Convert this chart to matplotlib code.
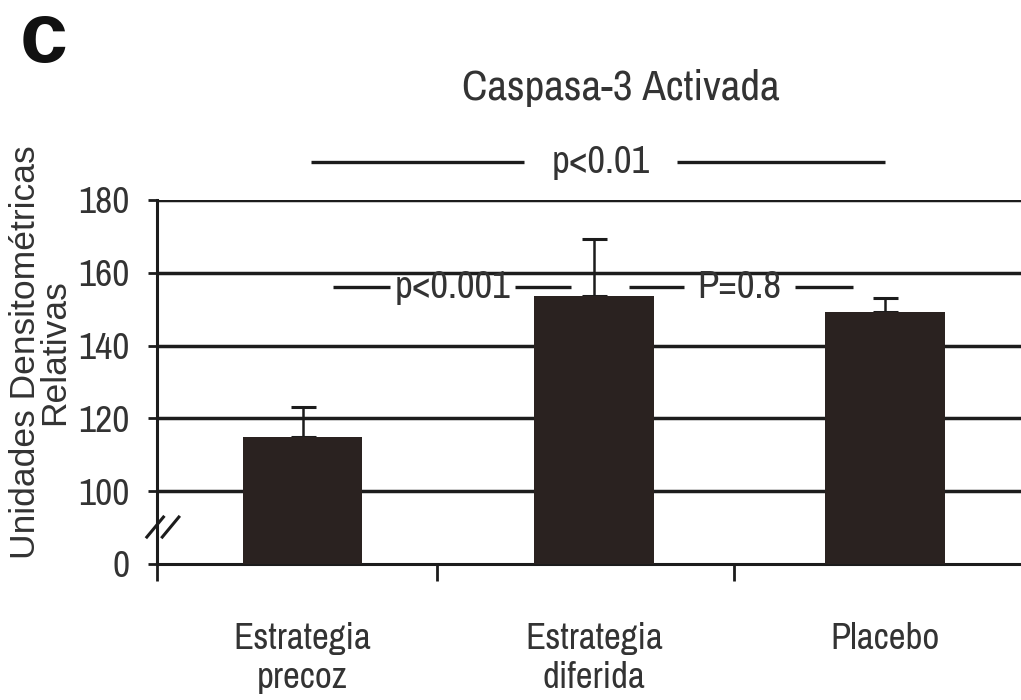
import numpy as np
import matplotlib
matplotlib.use('Agg')
import matplotlib.pyplot as plt
from matplotlib import font_manager

# ---------------------------------------------------------------
# Data
# ---------------------------------------------------------------
categories = ['Estrategia\nprecoz', 'Estrategia\ndiferida', 'Placebo']
means = [114.8, 153.7, 149.1]
err_up = [8.2, 15.5, 3.9]

# broken axis: 0 is drawn one tick-step below 100
AXIS_OFFSET = 80
tick_values = [0, 100, 120, 140, 160, 180]
grid_values = [100, 120, 140, 160, 180]

# significance brackets: (label, left group, right group, y value)
sig_labels = ['p<0.01', 'p<0.001', 'P=0.8']
sig_pairs = [(0, 2), (0, 1), (1, 2)]
sig_levels = [190.4, 156.0, 156.0]

TEXT = '#333333'
INK = '#1c1c1c'
BAR = '#2a2220'

# the original uses a Helvetica-Narrow style face; take the first one we have
_have = {f.name for f in font_manager.fontManager.ttflist}
_narrow = [n for n in ('Nimbus Sans Narrow', 'Liberation Sans Narrow',
                       'Arial Narrow', 'Archivo Narrow', 'Roboto Condensed',
                       'PT Sans Narrow') if n in _have]
NARROW = _narrow[:1] + ['Liberation Sans', 'DejaVu Sans']
REGULAR = ['Liberation Sans', 'DejaVu Sans']


def to_axis(v):
    return v if v == 0 else v - AXIS_OFFSET


fig = plt.figure(figsize=(10.21, 7.0), dpi=100)
ax = fig.add_axes([0.1538, 0.1943, 0.8462, 0.52])

x = np.arange(len(categories))
heights = [to_axis(m) for m in means]

for g in grid_values:
    ax.axhline(to_axis(g), color=INK, lw=2.5, zorder=1)

ax.bar(x, heights, width=0.41, color=BAR, zorder=3)
for xi, h, e in zip(x, heights, err_up):
    ax.errorbar(xi, h, yerr=[[0], [e]], fmt='none', ecolor=INK,
                elinewidth=1.8, capsize=9, capthick=2.2, zorder=2)

ax.set_xlim(-0.5, 2.467)
ax.set_ylim(0, 100)

for s in ('top', 'right'):
    ax.spines[s].set_visible(False)
for s in ('left', 'bottom'):
    ax.spines[s].set_linewidth(2.2)
    ax.spines[s].set_color(INK)

ax.set_yticks([to_axis(v) for v in tick_values])
ax.set_yticklabels([str(v) for v in tick_values], family=NARROW,
                   fontsize=27, color=TEXT)
ax.tick_params(axis='y', length=6.5, width=2.0, color=INK, pad=13)

ax.set_xticks(x)
ax.set_xticklabels(categories, family=NARROW, fontsize=26.5, color=TEXT,
                   va='top', linespacing=1.2)
ax.tick_params(axis='x', which='major', length=0, pad=42)
ax.set_xticks([-0.5, 0.46, 1.48], minor=True)
ax.tick_params(axis='x', which='minor', length=12, width=2.0, color=INK,
               direction='out')

# axis break marks
for dx in (0.0, 0.053):
    ax.plot([-0.535 + dx, -0.478 + dx], [7.4, 12.9], color=INK, lw=2.2,
            clip_on=False, zorder=5)

# significance annotations: line segments either side of the label
seg_spans = [((0.03, 0.76), (1.285, 2.0)),
             ((0.103, 0.30), (0.73, 0.92)),
             ((1.12, 1.31), (1.69, 1.89))]
for lab, (a, b), lev, (sl, sr) in zip(sig_labels, sig_pairs, sig_levels, seg_spans):
    yv = to_axis(lev)
    ax.plot(sl, [yv, yv], color=INK, lw=2.4, clip_on=False,
            solid_capstyle='butt')
    ax.plot(sr, [yv, yv], color=INK, lw=2.4, clip_on=False,
            solid_capstyle='butt')
    ax.text((sl[1] + sr[0]) / 2, yv, lab, ha='center', va='center',
            family=NARROW, fontsize=28, color=TEXT, clip_on=False)

ax.set_title('Caspasa-3 Activada', family=NARROW, fontsize=31, color=TEXT,
             x=(621 - 157) / (1021 - 157), y=1.0, pad=72)

fig.text(40 / 1021, 1 - 352 / 700, 'Unidades Densitométricas\nRelativas',
         rotation=90, ha='center', va='center', multialignment='center',
         linespacing=0.85, family=REGULAR, fontsize=25.5, color=TEXT)

fig.text(44 / 1021, 1 - 62 / 700, 'c', ha='center', va='baseline',
         family=REGULAR, fontweight='bold', fontsize=62, color='#111111')

fig.savefig('out.png', dpi=100)
